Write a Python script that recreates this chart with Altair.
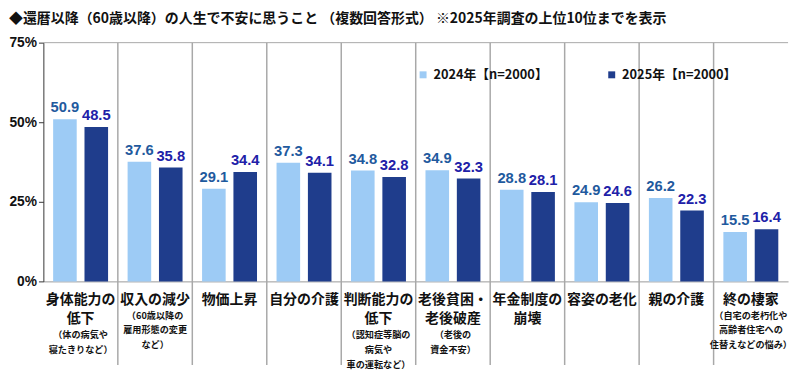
import altair as alt
import pandas as pd

categories = ["身体能力の低下", "収入の減少", "物価上昇", "自分の介護", "判断能力の低下",
              "老後貧困・老後破産", "年金制度の崩壊", "容姿の老化", "親の介護", "終の棲家"]
main_labels = ["身体能力の\n低下", "収入の減少", "物価上昇", "自分の介護", "判断能力の\n低下",
               "老後貧困・\n老後破産", "年金制度の\n崩壊", "容姿の老化", "親の介護", "終の棲家"]
sub_labels = ["（体の病気や\n寝たきりなど）", "（60歳以降の\n雇用形態の変更\nなど）", "", "",
              "（認知症等脳の\n病気や\n車の運転など）", "（老後の\n資金不安）", "", "", "",
              "（自宅の老朽化や\n高齢者住宅への\n住替えなどの悩み）"]
series = ["2024年【n=2000】", "2025年【n=2000】"]
values_2024 = [50.9, 37.6, 29.1, 37.3, 34.8, 34.9, 28.8, 24.9, 26.2, 15.5]
values_2025 = [48.5, 35.8, 34.4, 34.1, 32.8, 32.3, 28.1, 24.6, 22.3, 16.4]
y_ticks = [0, 25, 50, 75]

bar_colors = ["#9DCBF5", "#1F3D8C"]
label_colors = ["#1F5A9E", "#2020A8"]
JP = "Noto Sans CJK JP"
NUM = "Liberation Sans"

rows = []
for i, c in enumerate(categories):
    rows.append({"cat": c, "year": series[0], "value": values_2024[i]})
    rows.append({"cat": c, "year": series[1], "value": values_2025[i]})
df = pd.DataFrame(rows)

lab = pd.DataFrame({"cat": categories, "main": main_labels, "sub": sub_labels})
lab["nmain"] = lab["main"].str.count("\n") + 1
sep = pd.DataFrame({"cat": categories[1:]})

W, H = 758, 243

xscale = alt.Scale(domain=categories, paddingInner=0, paddingOuter=0)
xoff = alt.XOffset("year:N", scale=alt.Scale(domain=series, paddingInner=0.25, paddingOuter=0.3125))
yscale = alt.Scale(domain=[0, 75], nice=False)

bars = alt.Chart(df).mark_bar(size=24).encode(
    x=alt.X("cat:N", scale=xscale, sort=categories,
            axis=alt.Axis(title=None, labels=False, ticks=False, domain=True,
                          domainColor="#999999", grid=False)),
    xOffset=xoff,
    y=alt.Y("value:Q", scale=yscale,
            axis=alt.Axis(title=None, values=y_ticks, labelExpr="datum.value + '%'",
                          labelFont=NUM, labelFontSize=14, labelFontWeight="bold",
                          labelColor="#111111", grid=False, domainColor="#333333",
                          tickColor="#333333", tickSize=5, labelPadding=2)),
    color=alt.Color("year:N", scale=alt.Scale(domain=series, range=bar_colors),
                    legend=alt.Legend(title=None, orient="none", direction="horizontal",
                                      legendX=380, legendY=26, symbolType="square",
                                      symbolSize=50, symbolStrokeWidth=0,
                                      labelFont=JP, labelFontSize=13, labelFontWeight="bold",
                                      labelColor="#111111", columnPadding=58,
                                      labelLimit=200)),
)

def value_text(idx):
    return alt.Chart(df).transform_filter(
        alt.datum.year == series[idx]
    ).mark_text(baseline="bottom", dy=-4, font=NUM, fontSize=15, fontWeight="bold",
                color=label_colors[idx]).encode(
        x=alt.X("cat:N", scale=xscale, sort=categories),
        xOffset=xoff,
        y=alt.Y("value:Q", scale=yscale),
        text=alt.Text("value:Q", format=".1f"),
    )

seps = alt.Chart(sep).mark_rule(color="#A8A8A8", strokeWidth=1.5).encode(
    x=alt.X("cat:N", scale=xscale, sort=categories, bandPosition=0),
    y=alt.value(0), y2=alt.value(328),
)

top_border = alt.Chart(pd.DataFrame({"v": [75]})).mark_rule(color="#A8A8A8", strokeWidth=1).encode(
    y=alt.Y("v:Q", scale=yscale), x=alt.value(0), x2=alt.value(W),
)

mains = alt.Chart(lab).mark_text(baseline="top", lineBreak="\n", font=JP, fontSize=14.2,
                                 fontWeight="bold", lineHeight=19, color="#111111").encode(
    x=alt.X("cat:N", scale=xscale, sort=categories, bandPosition=0.5),
    y=alt.value(255), text="main:N",
)

def subs(n, ypos):
    return alt.Chart(lab).transform_filter(alt.datum.nmain == n).mark_text(
        baseline="top", lineBreak="\n", font=JP, fontSize=9.3, fontWeight="bold",
        lineHeight=15, color="#111111").encode(
        x=alt.X("cat:N", scale=xscale, sort=categories, bandPosition=0.5),
        y=alt.value(ypos), text="sub:N",
    )

chart = alt.layer(seps, top_border, bars, value_text(0), value_text(1), mains,
                  subs(2, 294), subs(1, 274)).properties(
    width=W, height=H,
    padding={"left": 0, "top": 0, "right": 0, "bottom": 0},
    title=alt.TitleParams(
        "◆還暦以降（60歳以降）の人生で不安に思うこと （複数回答形式） ※2025年調査の上位10位までを表示",
        anchor="start", frame="bounds", font=JP, fontSize=14.2, fontWeight="bold",
        color="#111111", offset=10),
).configure_view(stroke=None)

chart.save("out.html", embed_options={"renderer": "svg", "actions": False})
